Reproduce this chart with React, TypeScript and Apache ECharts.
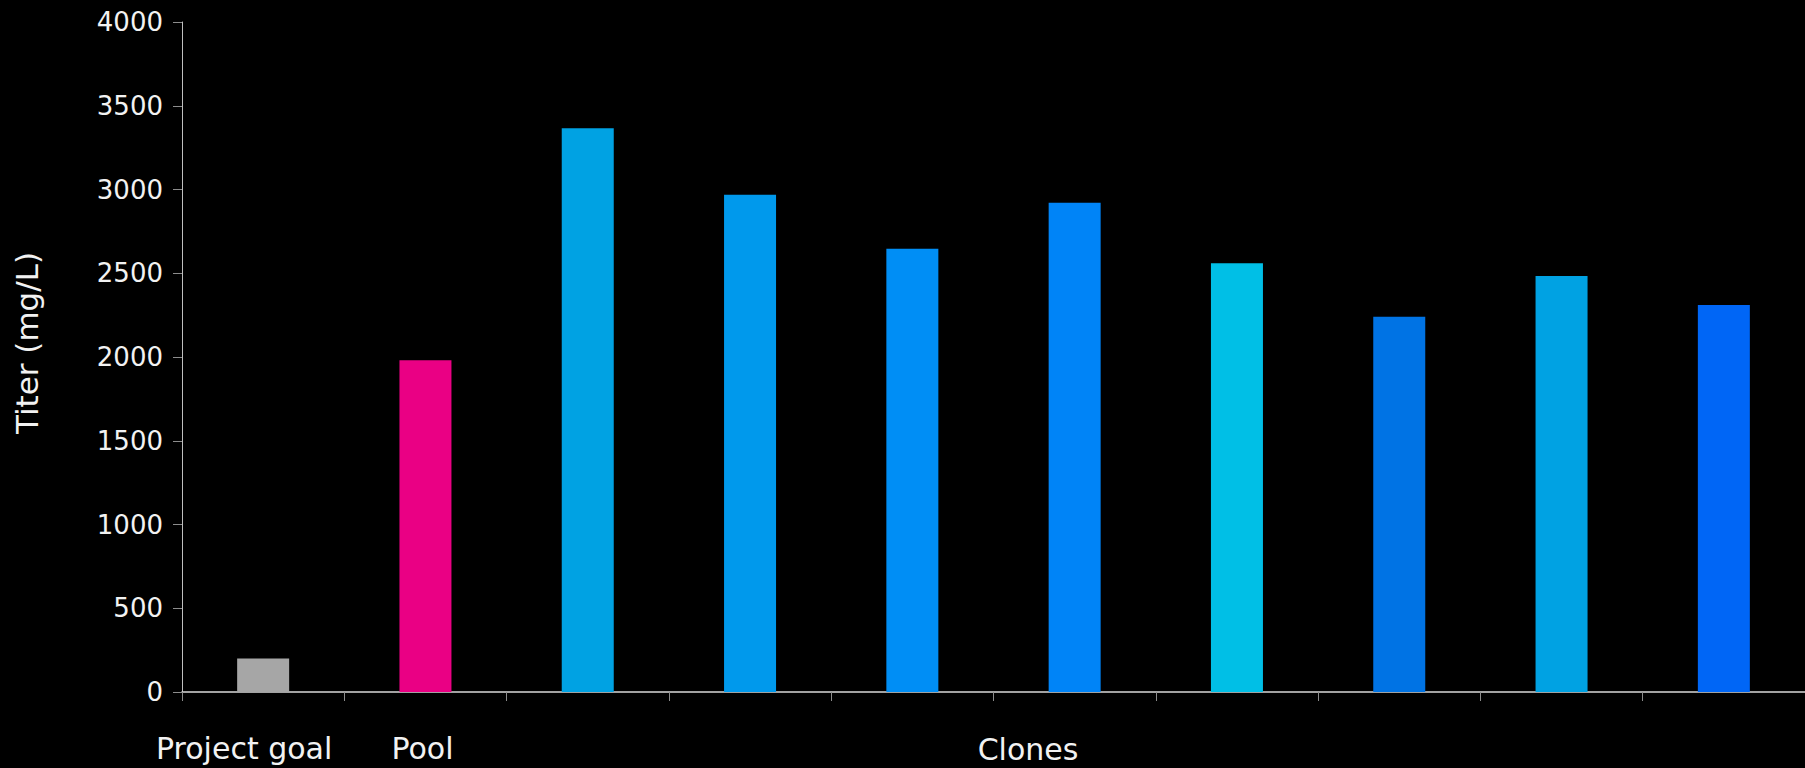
import React, { useEffect, useRef } from "react";
import * as echarts from "echarts";

const categories = ["Project goal", "Pool", "Clone 1", "Clone 2", "Clone 3", "Clone 4", "Clone 5", "Clone 6", "Clone 7", "Clone 8"];
const titerValues = [200, 1980, 3366, 2969, 2646, 2921, 2560, 2240, 2483, 2310];
const barColors = ["#A6A6A6", "#EA0084", "#00A2E3", "#0099EC", "#008EF5", "#0084F7", "#00BFE6", "#0073E4", "#00A2E3", "#0066F6"];
const shownLabels = ["Project goal", "Pool"];
const groupLabel = "Clones";
const yAxisName = "Titer (mg/L)";

export default function App() {
  const ref = useRef<HTMLDivElement>(null);
  useEffect(() => {
    if (!ref.current) return;
    const chart = echarts.init(ref.current, null, { renderer: "svg" });
    const font = "DejaVu Sans";
    chart.setOption({
      animation: false,
      backgroundColor: "#000000",
      grid: { left: 182, right: 0, top: 22, bottom: 76, containLabel: false },
      xAxis: {
        type: "category",
        data: categories,
        boundaryGap: true,
        axisLine: { lineStyle: { color: "#D9D9D9", width: 1.5 } },
        axisTick: { show: true, length: 9, lineStyle: { color: "#8C8C8C" } },
        axisLabel: {
          interval: 0,
          margin: 41,
          color: "#F2F2F2",
          fontFamily: font,
          fontSize: 30,
          formatter: (v: string) =>
            v === shownLabels[0] ? `{goal|${v}}` : shownLabels.includes(v) ? `{pool|${v}}` : "",
          rich: {
            goal: { color: "#F2F2F2", fontFamily: font, fontSize: 30, padding: [0, 38, 0, 0] },
            pool: { color: "#F2F2F2", fontFamily: font, fontSize: 30, padding: [0, 6, 0, 0] },
          },
        },
      },
      yAxis: {
        type: "value",
        min: 0,
        max: 4000,
        interval: 500,
        name: yAxisName,
        nameLocation: "middle",
        nameGap: 140,
        nameRotate: 90,
        nameTextStyle: { color: "#F2F2F2", fontFamily: font, fontSize: 31, padding: [0, 0, 0, 28] },
        axisLine: { show: true, lineStyle: { color: "#BFBFBF", width: 1 } },
        axisTick: { show: true, length: 9, lineStyle: { color: "#8C8C8C" } },
        splitLine: { show: false },
        axisLabel: {
          margin: 19,
          color: "#F2F2F2",
          fontFamily: font,
          fontSize: 26,
          formatter: (v: number) => String(v),
        },
      },
      graphic: [
        {
          type: "text",
          x: 1028,
          y: 749,
          style: {
            text: groupLabel,
            fill: "#F2F2F2",
            font: `30px "${font}"`,
            textAlign: "center",
            textVerticalAlign: "middle",
          },
        },
      ],
      series: [
        {
          type: "bar",
          barWidth: 52,
          data: titerValues.map((v, i) => ({ value: v, itemStyle: { color: barColors[i] } })),
        },
      ],
    });
    return () => chart.dispose();
  }, []);
  return (
    <div
      ref={ref}
      style={{ position: "fixed", left: 0, top: 0, width: 1805, height: 768, background: "#000" }}
    />
  );
}
